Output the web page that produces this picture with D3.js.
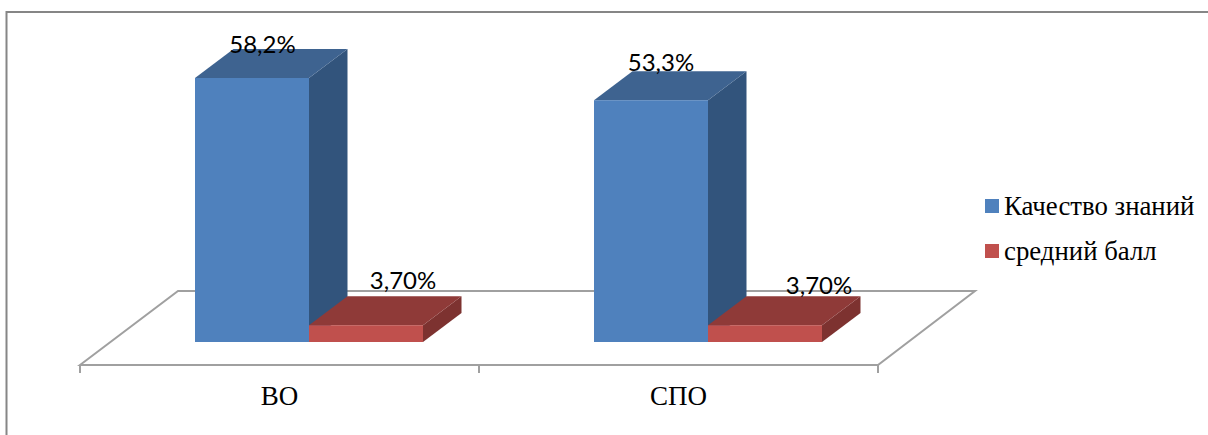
<!DOCTYPE html>
<html><head><meta charset="utf-8">
<script src="https://cdn.jsdelivr.net/npm/d3@7/dist/d3.min.js"></script>
<style>html,body{margin:0;padding:0;background:#fff}svg{display:block}</style>
</head><body><svg id="c" width="1208" height="435"></svg>
<script>
const categories = ["ВО", "СПО"];
const seriesNames = ["Качество знаний", "средний балл"];
const quality = [58.2, 53.3];
const average = [3.7, 3.7];
const qualityLabels = ["58,2%", "53,3%"];
const averageLabels = ["3,70%", "3,70%"];
const colors = [{front:"#4f81bd",top:"#3e6390",side:"#32547c"},{front:"#c0504d",top:"#8f3a38",side:"#7d3230"}];

const svg = d3.select("#c");
const x = d3.scaleBand().domain(categories).range([80,878]);
const inner = d3.scaleBand().domain([0,1]).range([115,343]);
const y = d3.scaleLinear().domain([0,58.2]).range([342,78]);
const dx = 38.5, dy = -29;
const floorY = 365, backY = 291;

svg.append("path").attr("d","M6.5,436V12H1208").attr("fill","none").attr("stroke","#868686").attr("stroke-width",2);

const floorX = x.range();
svg.append("path").attr("fill","none").attr("stroke","#a0a0a0").attr("stroke-width",2)
  .attr("d",`M${floorX[0]},${floorY}L178,${backY}H975L${floorX[1]},${floorY}Z`);
const edges = [...categories.map(c=>x(c)), floorX[1]];
svg.selectAll("line.t").data(edges).join("line").attr("class","t")
  .attr("x1",d=>d).attr("x2",d=>d).attr("y1",floorY).attr("y2",floorY+8)
  .attr("stroke","#a0a0a0").attr("stroke-width",2);

const rows = [];
categories.forEach((c,i)=>{
  rows.push({c,s:0,v:quality[i],l:qualityLabels[i]});
  rows.push({c,s:1,v:average[i],l:averageLabels[i]});
});
rows.forEach(d=>{
  const x0 = x(d.c)+inner(d.s), w = inner.bandwidth(), yt = y(d.v), yb = y(0), k = colors[d.s];
  const g = svg.append("g");
  g.append("polygon").attr("fill",k.side).attr("points",[[x0+w,yt],[x0+w+dx,yt+dy],[x0+w+dx,yb+dy],[x0+w,yb]].join(" "));
  g.append("polygon").attr("fill",k.top).attr("points",[[x0,yt],[x0+dx,yt+dy],[x0+w+dx,yt+dy],[x0+w,yt]].join(" "));
  g.append("rect").attr("x",x0).attr("y",yt).attr("width",w).attr("height",yb-yt).attr("fill",k.front);
});
const labelShiftX = [-28, -1.5, -28.5, 15.5];
const labelShiftY = [4, -7, 0, -2];
svg.selectAll("text.v").data(rows).join("text").attr("class","v")
  .attr("x",(d,i)=>x(d.c)+inner(d.s)+inner.bandwidth()/2+dx+labelShiftX[i])
  .attr("y",(d,i)=>y(d.v)+dy+labelShiftY[i])
  .attr("text-anchor","middle").attr("font-family","Lato, sans-serif")
  .attr("font-size",24).attr("fill","#000").text(d=>d.l);

svg.selectAll("text.c").data(categories).join("text").attr("class","c")
  .attr("x",d=>x(d)+x.bandwidth()/2).attr("y",405).attr("text-anchor","middle")
  .attr("font-family","'Liberation Serif', serif").attr("font-size",27).attr("fill","#000").text(d=>d);

const leg = svg.selectAll("g.l").data(seriesNames).join("g").attr("class","l")
  .attr("transform",(d,i)=>`translate(985,${199+i*45})`);
leg.append("rect").attr("width",14).attr("height",14).attr("fill",(d,i)=>colors[i].front);
leg.append("text").attr("x",19).attr("y",16).attr("font-family","'Liberation Serif', serif")
  .attr("font-size",26.8).attr("fill","#000").text(d=>d);
</script></body></html>
